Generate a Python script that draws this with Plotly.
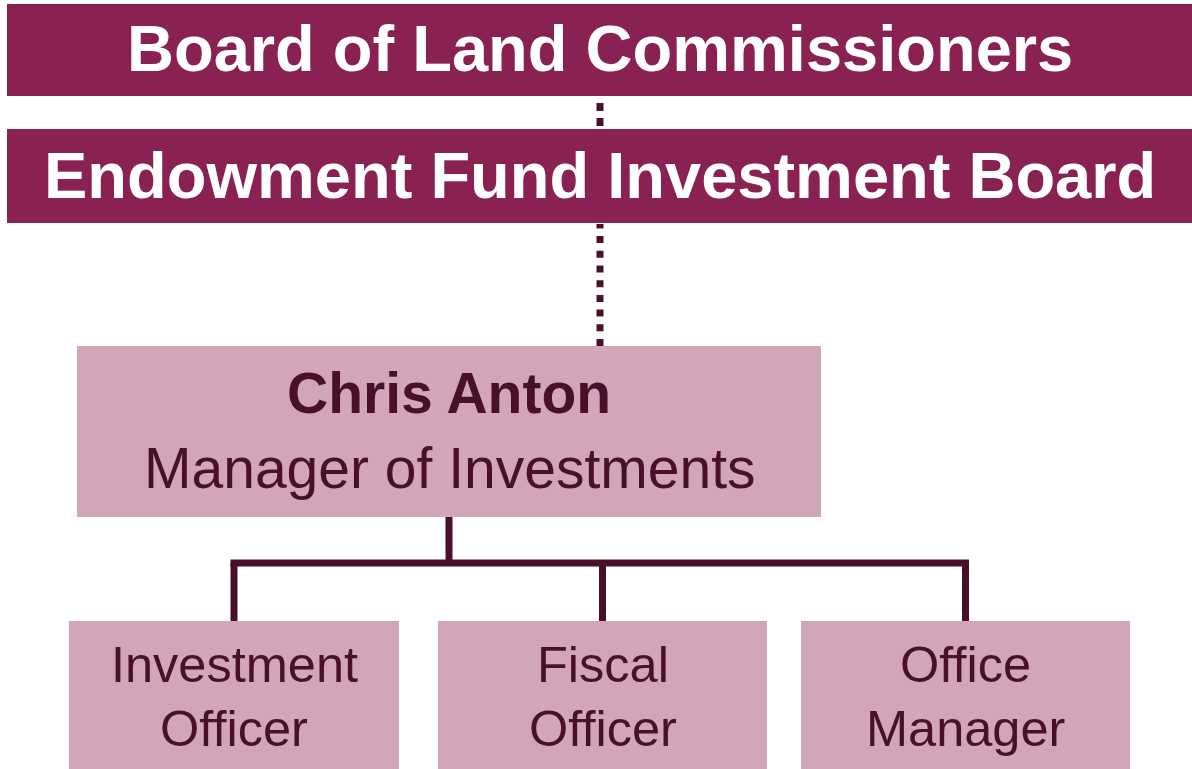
import plotly.graph_objects as go

# ---- chart content ----
board_titles = ["Board of Land Commissioners", "Endowment Fund Investment Board"]
manager_name = "Chris Anton"
manager_title = "Manager of Investments"
staff_line1 = ["Investment", "Fiscal", "Office"]
staff_line2 = ["Officer", "Officer", "Manager"]

# ---- layout geometry (pixels, y downward) ----
W, H = 1192, 769
board_boxes = [(7, 4, 1192, 96), (7, 129, 1192, 223)]
board_baselines = [71, 198]
manager_box = (77, 346, 821, 517)
manager_baselines = [413, 488]
staff_boxes = [(69, 621, 399, 769), (438, 621, 767, 769), (801, 621, 1130, 769)]
staff_baselines = [682, 746]
bus_y = 563
conn_x = 600

DARK = "rgb(137,33,82)"
LIGHT = "rgb(210,165,185)"
INK = "rgb(72,16,42)"
FONT = "Liberation Sans, Arial, sans-serif"

fig = go.Figure()
shapes = []
annotations = []


def rect(b, color):
    shapes.append(dict(type="rect", xref="x", yref="y", x0=b[0], y0=b[1], x1=b[2], y1=b[3],
                       fillcolor=color, line=dict(width=0), layer="below"))


def line(x0, y0, x1, y1, dash="solid", width=7):
    shapes.append(dict(type="line", xref="x", yref="y", x0=x0, y0=y0, x1=x1, y1=y1,
                       line=dict(color=INK, width=width, dash=dash)))


def text(x, baseline, s, size, color, bold=False):
    t = f"<b>{s}</b>" if bold else s
    annotations.append(dict(x=x, y=baseline - 0.35 * size, xref="x", yref="y", text=t,
                            showarrow=False, xanchor="center", yanchor="middle",
                            font=dict(family=FONT, size=size, color=color)))


# board boxes
for b, title, bl in zip(board_boxes, board_titles, board_baselines):
    rect(b, DARK)
    text(600, bl, title, 65, "white", bold=True)

# dotted connectors
line(conn_x, 103, conn_x, 126, dash="8px,7px", width=7)
line(conn_x, 346, conn_x, 224, dash="7px,7.7px", width=7)

# manager box
rect(manager_box, LIGHT)
mcx = (manager_box[0] + manager_box[2]) / 2
text(mcx, manager_baselines[0], manager_name, 57, INK, bold=True)
text(mcx, manager_baselines[1], manager_title, 57, INK)

# tree connectors
line(mcx, manager_box[3], mcx, bus_y)
staff_centers = [(b[0] + b[2]) / 2 for b in staff_boxes]
line(staff_centers[0] - 3.5, bus_y, staff_centers[-1] + 3.5, bus_y)
for cx in staff_centers:
    line(cx, bus_y, cx, staff_boxes[0][1])

# staff boxes
for b, l1, l2 in zip(staff_boxes, staff_line1, staff_line2):
    rect(b, LIGHT)
    cx = (b[0] + b[2]) / 2
    text(cx, staff_baselines[0], l1, 50.5, INK)
    text(cx, staff_baselines[1], l2, 50.5, INK)

fig.update_layout(
    width=W, height=H,
    margin=dict(l=0, r=0, t=0, b=0),
    paper_bgcolor="white", plot_bgcolor="white",
    xaxis=dict(range=[0, W], visible=False, fixedrange=True),
    yaxis=dict(range=[H, 0], visible=False, fixedrange=True),
    shapes=shapes, annotations=annotations,
    showlegend=False,
)

fig.write_html(
    "out.html",
    config={"displayModeBar": False},
    post_script="document.body.style.margin='0';document.body.style.overflow='hidden';",
)
